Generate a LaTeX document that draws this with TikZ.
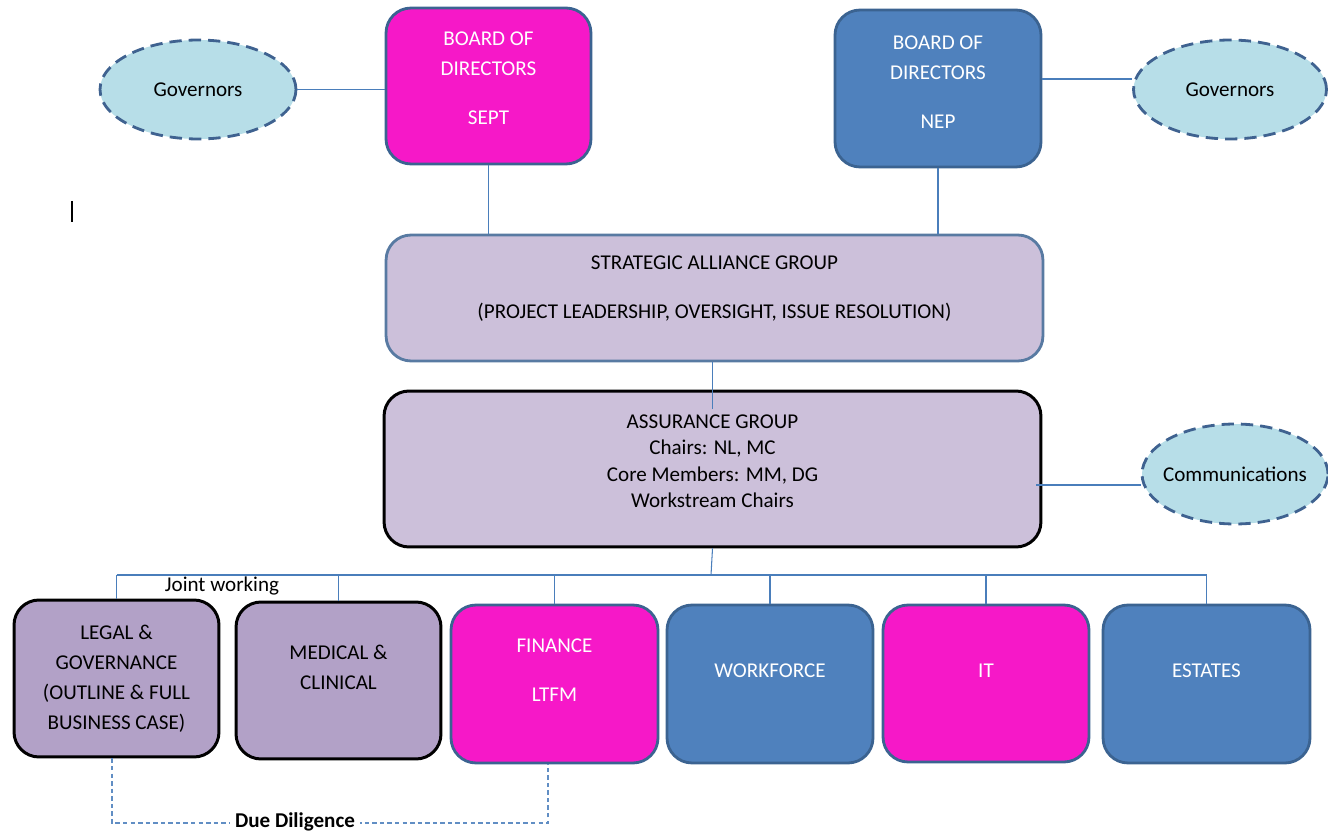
\documentclass[tikz,border=0pt]{standalone}
\usepackage{fontspec}
\setmainfont{Carlito}
\usetikzlibrary{shapes.geometric,calc}
\definecolor{septpink}{HTML}{F618C8}
\definecolor{nepblue}{HTML}{4F81BD}
\definecolor{edgeblue}{HTML}{3B6391}
\definecolor{lilac}{HTML}{CCC0DA}
\definecolor{mauve}{HTML}{B2A1C7}
\definecolor{govfill}{HTML}{B7DEE8}
\definecolor{govedge}{HTML}{3F6290}
\definecolor{linkblue}{HTML}{4A7EBB}

\begin{document}
\begin{tikzpicture}[x=0.02cm,y=-0.02cm,
  every node/.style={font=\fontsize{12}{17}\selectfont, align=center, inner sep=0pt},
  board/.style={draw=edgeblue, line width=1.6pt, rounded corners=0.5cm, text=white,
    minimum width=4.12cm, minimum height=3.14cm},
  group/.style={draw=black, line width=1.7pt, rounded corners=0.5cm,
    minimum width=4.1cm, minimum height=3.14cm},
  gov/.style={ellipse, draw=govedge, fill=govfill, line width=1.6pt,
    dash pattern=on 7pt off 4pt},
  link/.style={draw=linkblue, line width=0.6pt}]
  \useasboundingbox (0,0) rectangle (1328,834);

  \node[board, fill=septpink, minimum width=4.1cm, minimum height=3.12cm] (sept) at (488.5,86)
    {BOARD OF\\DIRECTORS\\[11pt]SEPT\\[-8.5pt]~};
  \node[board, fill=nepblue] (nep) at (938,88.5)
    {BOARD OF\\DIRECTORS\\[11pt]NEP\\[-10pt]~};
  \node[gov, minimum width=3.92cm, minimum height=1.98cm] (govl) at (198,89.5) {Governors};
  \node[gov, minimum width=3.86cm, minimum height=1.98cm] (govr) at (1230,89.5) {Governors};

  \node[board, text=black, fill=lilac, draw=edgeblue!85, minimum width=13.14cm, minimum height=2.52cm] (sag) at (714.5,298)
    {STRATEGIC ALLIANCE GROUP\\[11pt](PROJECT LEADERSHIP, OVERSIGHT, ISSUE RESOLUTION)\\[-4.5pt]~};
  \node[group, fill=lilac, minimum width=13.14cm, minimum height=3.12cm] (ag) at (712.5,469)
    {ASSURANCE GROUP\\[-2pt]Chairs: NL, MC\\[-2pt]Core Members: MM, DG\\[-2pt]Workstream Chairs\\[-8pt]~};
  \node[gov, minimum width=3.72cm, minimum height=2cm] (comm) at (1235,474) {\makebox[1.6cm]{Communications}};

  \node[group, fill=mauve] (legal) at (116.5,678.5)
    {LEGAL \&\\GOVERNANCE\\(OUTLINE \& FULL\\BUSINESS CASE)};
  \node[group, fill=mauve] (medical) at (338.5,680.5) {MEDICAL \&\\CLINICAL\\[-2pt]~};
  \node[board, fill=septpink, minimum width=4.14cm, minimum height=3.16cm] (finance) at (554.5,684)
    {FINANCE\\[11pt]LTFM\\[-1pt]~};
  \node[board, fill=nepblue, minimum height=3.16cm] (workforce) at (770,684) {WORKFORCE\\[-2pt]~};
  \node[board, fill=septpink] (it) at (986,683.5) {IT\\[-2pt]~};
  \node[board, fill=nepblue, minimum width=4.14cm, minimum height=3.16cm] (estates) at (1206.5,684) {ESTATES\\[-2pt]~};

  \coordinate (bus) at (711,575);
  \coordinate (govline) at (0,79);
  \coordinate (commlink) at (1036,485);
  \coordinate (ddlevel) at (0,823);

  \draw[link] (govl.east) -- (govl.east -| sept.west);
  \draw[link] (nep.east |- govline) -- (govr.west |- govline);
  \draw[link] (sept.south) -- (sept.south |- sag.north);
  \draw[link] (nep.south) -- (nep.south |- sag.north);
  \draw[link] (ag.north |- sag.south) -- ([yshift=-0.38cm]ag.north);
  \draw[link] (commlink) -- (commlink -| comm.west);

  \draw[link] (ag.south) -- (bus);
  \draw[link] (legal.north |- bus) -- (estates.north |- bus);
  \foreach \unit in {legal,medical,finance,workforce,it,estates}
    \draw[link] (\unit.north |- bus) -- (\unit.north);
  \node (joint) at (222,586) {Joint working};

  \draw[link, draw=nepblue!90, dash pattern=on 2.5pt off 1.8pt] ([xshift=-0.09cm]legal.south) -- ([xshift=-0.09cm]legal.south |- ddlevel)
    -- ([xshift=-0.13cm]finance.south |- ddlevel) -- ([xshift=-0.13cm]finance.south);
  \node[fill=white, inner xsep=3pt, inner ysep=1pt, font=\fontsize{12}{17}\selectfont\bfseries] (due) at (295,822) {Due Diligence};

  \draw[line width=1.1pt] (72,201) -- (72,222);
\end{tikzpicture}
\end{document}
